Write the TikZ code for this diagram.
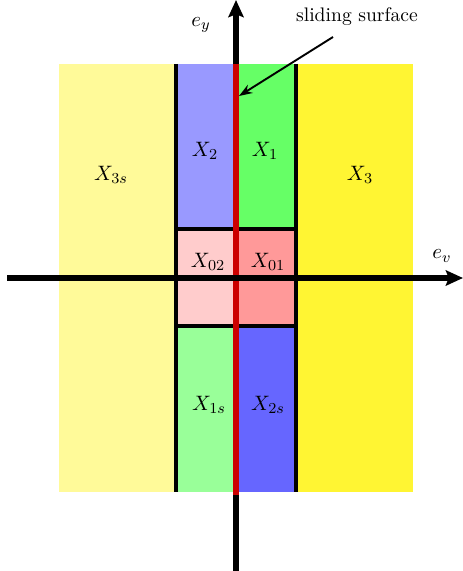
\documentclass[tikz,border=0pt]{standalone}
\usetikzlibrary{arrows.meta}
\begin{document}
\begin{tikzpicture}[x=0.525pt,y=-0.525pt,
  region/.style={draw=none},
  sep/.style={line width=2.2pt,black},
  axis/.style={line width=3pt,black,-{Stealth[length=9pt,width=8pt,inset=1.5pt]}},
  lbl/.style={inner sep=1pt,font=\fontsize{11.2}{13}\selectfont}]
\useasboundingbox (0,0) rectangle (463,571);
% regions
\fill[yellow!40] (59,64) rectangle (176,492);
\fill[yellow!80] (296,64) rectangle (413,492);
\fill[blue!40] (176,64) rectangle (236,229);
\fill[green!60] (236,64) rectangle (296,229);
\fill[red!20] (176,229) rectangle (236,326);
\fill[red!40] (236,229) rectangle (296,326);
\fill[green!40] (176,326) rectangle (236,492);
\fill[blue!60] (236,326) rectangle (296,492);
% separators
\coordinate (lt) at (176,64); \coordinate (lb) at (176,492);
\coordinate (rt) at (296,64); \coordinate (rb) at (296,492);
\coordinate (h1l) at (176,229); \coordinate (h1r) at (296,229);
\coordinate (h2l) at (176,326); \coordinate (h2r) at (296,326);
\draw[sep] (lt) -- (lb);
\draw[sep] (rt) -- (rb);
\draw[sep] (h1l) -- (h1r);
\draw[sep] (h2l) -- (h2r);
% axes
\coordinate (yb) at (236,571); \coordinate (yt) at (236,0);
\coordinate (xl) at (7,278); \coordinate (xr) at (463,278);
\draw[axis] (yb) -- (yt);
\coordinate (st) at (236,64); \coordinate (sb) at (236,495);
\draw[line width=2.8pt,red!80!black] (st) -- (sb);
\draw[axis] (xl) -- (xr);
% labels
\node[lbl] (ey) at (201,25) {$e_y$};
\node[lbl] (ev) at (442,256) {$e_v$};
\node[inner sep=1pt,font=\fontsize{10.3}{12}\selectfont] (ss) at (357,17) {sliding surface};
\coordinate (sstip) at (239,96);
\draw[line width=1pt,-{Stealth[length=7pt,width=5pt]}] (333,37) -- (sstip);
\node[lbl] (x3s) at (111,175) {$X_{3s}$};
\node[lbl] (x2) at (205,151) {$X_2$};
\node[lbl] (x1) at (265,151) {$X_1$};
\node[lbl] (x3) at (360,175) {$X_3$};
\node[lbl] (x02) at (208,262) {$X_{02}$};
\node[lbl] (x01) at (268,262) {$X_{01}$};
\node[lbl] (x1s) at (209,405) {$X_{1s}$};
\node[lbl] (x2s) at (268,405) {$X_{2s}$};
\end{tikzpicture}
\end{document}
